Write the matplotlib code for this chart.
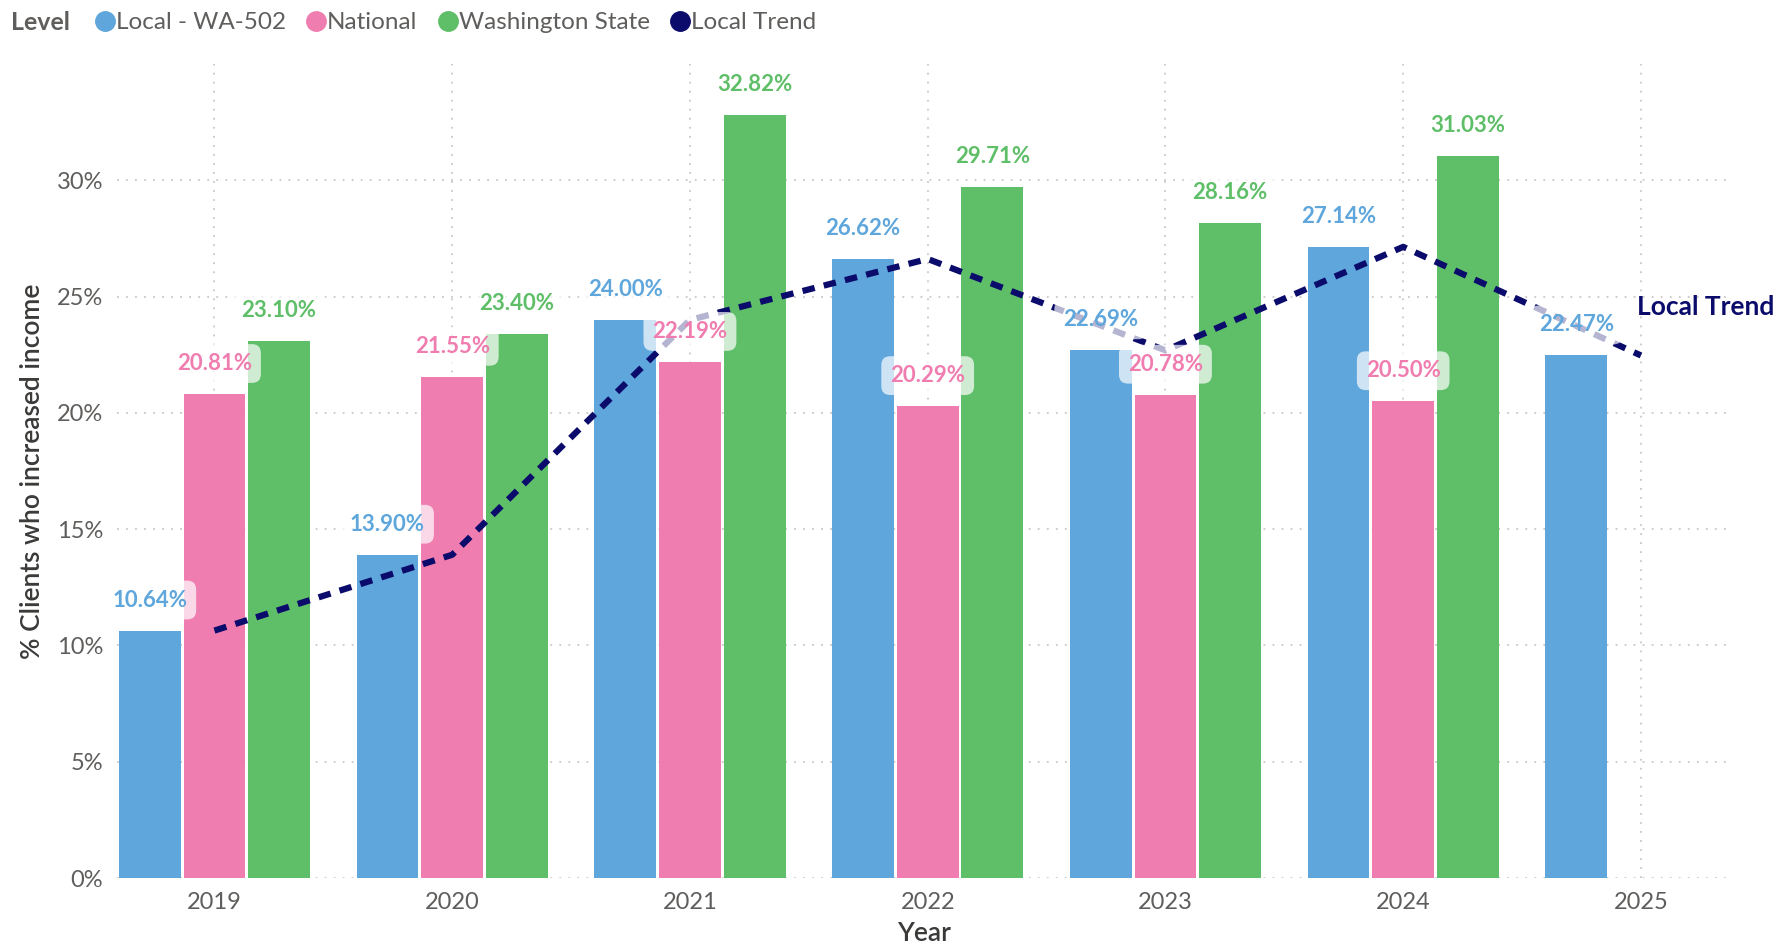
import numpy as np
import matplotlib
matplotlib.use("Agg")
import matplotlib.pyplot as plt
from matplotlib.lines import Line2D
from matplotlib.ticker import PercentFormatter

plt.rcParams['font.family'] = ['Lato', 'DejaVu Sans']

# data
years = ['2019', '2020', '2021', '2022', '2023', '2024', '2025']
local = [10.64, 13.90, 24.00, 26.62, 22.69, 27.14, 22.47]
national = [20.81, 21.55, 22.19, 20.29, 20.78, 20.50]
state = [23.10, 23.40, 32.82, 29.71, 28.16, 31.03]
trend = local

c_local = '#5EA6DB'
c_nat = '#F07DAF'
c_state = '#5FBE68'
c_trend = '#0B0B6B'
c_tick = '#605E5C'
c_axis = '#3B3A39'

fig = plt.figure(figsize=(17.83, 9.52), dpi=100)
ax = fig.add_axes([0.0656, 0.0777, 0.9054, 0.855])

x = np.arange(len(years))
w = 0.26
off = 0.272

series = [
    (local, -off, c_local),
    (national, 0, c_nat),
    (state, off, c_state),
]
for vals, dx, col in series:
    xs = x[:len(vals)] + dx
    ax.bar(xs, vals, width=w, color=col, zorder=2)

ax.plot(x, trend, color=c_trend, lw=4.5, linestyle=(0, (2.0, 1.5)), zorder=3)

# data labels, with a soft white box like the original
for vals, dx, col in series:
    for xi, v in zip(x[:len(vals)] + dx, vals):
        ax.annotate(f'{v:.2f}%', (xi, v), xytext=(0, 22), textcoords='offset points',
                    ha='center', va='center', fontsize=16, fontweight='bold', color=col,
                    bbox=dict(boxstyle='round,pad=0.4', fc='white', ec='none', alpha=0.7),
                    zorder=5)

ax.annotate('Local Trend', (x[-1], trend[-1]), xytext=(-3, 35), textcoords='offset points',
            ha='left', va='center', fontsize=19, fontweight='bold', color=c_trend,
            annotation_clip=False, zorder=6)

ax.set_xlim(-0.41, 6.38)
ax.set_ylim(0, 35)
ax.set_yticks(np.arange(0, 31, 5))
ax.yaxis.set_major_formatter(PercentFormatter(decimals=0))
ax.set_xticks(x)
ax.set_xticklabels(years)
ax.tick_params(length=0, labelsize=17, colors=c_tick, pad=10)
ax.grid(True, color='#C8C8C8', linestyle=(0, (1, 4)), lw=1.3, zorder=0)
ax.set_axisbelow(True)
for s in ax.spines.values():
    s.set_visible(False)

ax.set_xlabel('Year', fontsize=19, fontweight='semibold', color=c_axis, labelpad=6)
ax.set_ylabel('% Clients who increased income', fontsize=19, fontweight='semibold',
              color=c_axis, labelpad=8)

# legend across the top
fig.text(0.006, 0.976, 'Level', fontsize=18, fontweight='bold', color=c_tick, va='center')
handles = [Line2D([], [], marker='o', ls='none', markersize=14, color=c)
           for c in [c_local, c_nat, c_state, c_trend]]
labels = ['Local - WA-502', 'National', 'Washington State', 'Local Trend']
fig.legend(handles, labels, loc='center left', bbox_to_anchor=(0.043, 0.976), ncol=4,
           frameon=False, fontsize=17.5, handletextpad=-0.3, columnspacing=0.5,
           handlelength=1.5, labelcolor=c_tick, borderaxespad=0)

fig.savefig('out.png', dpi=100)
